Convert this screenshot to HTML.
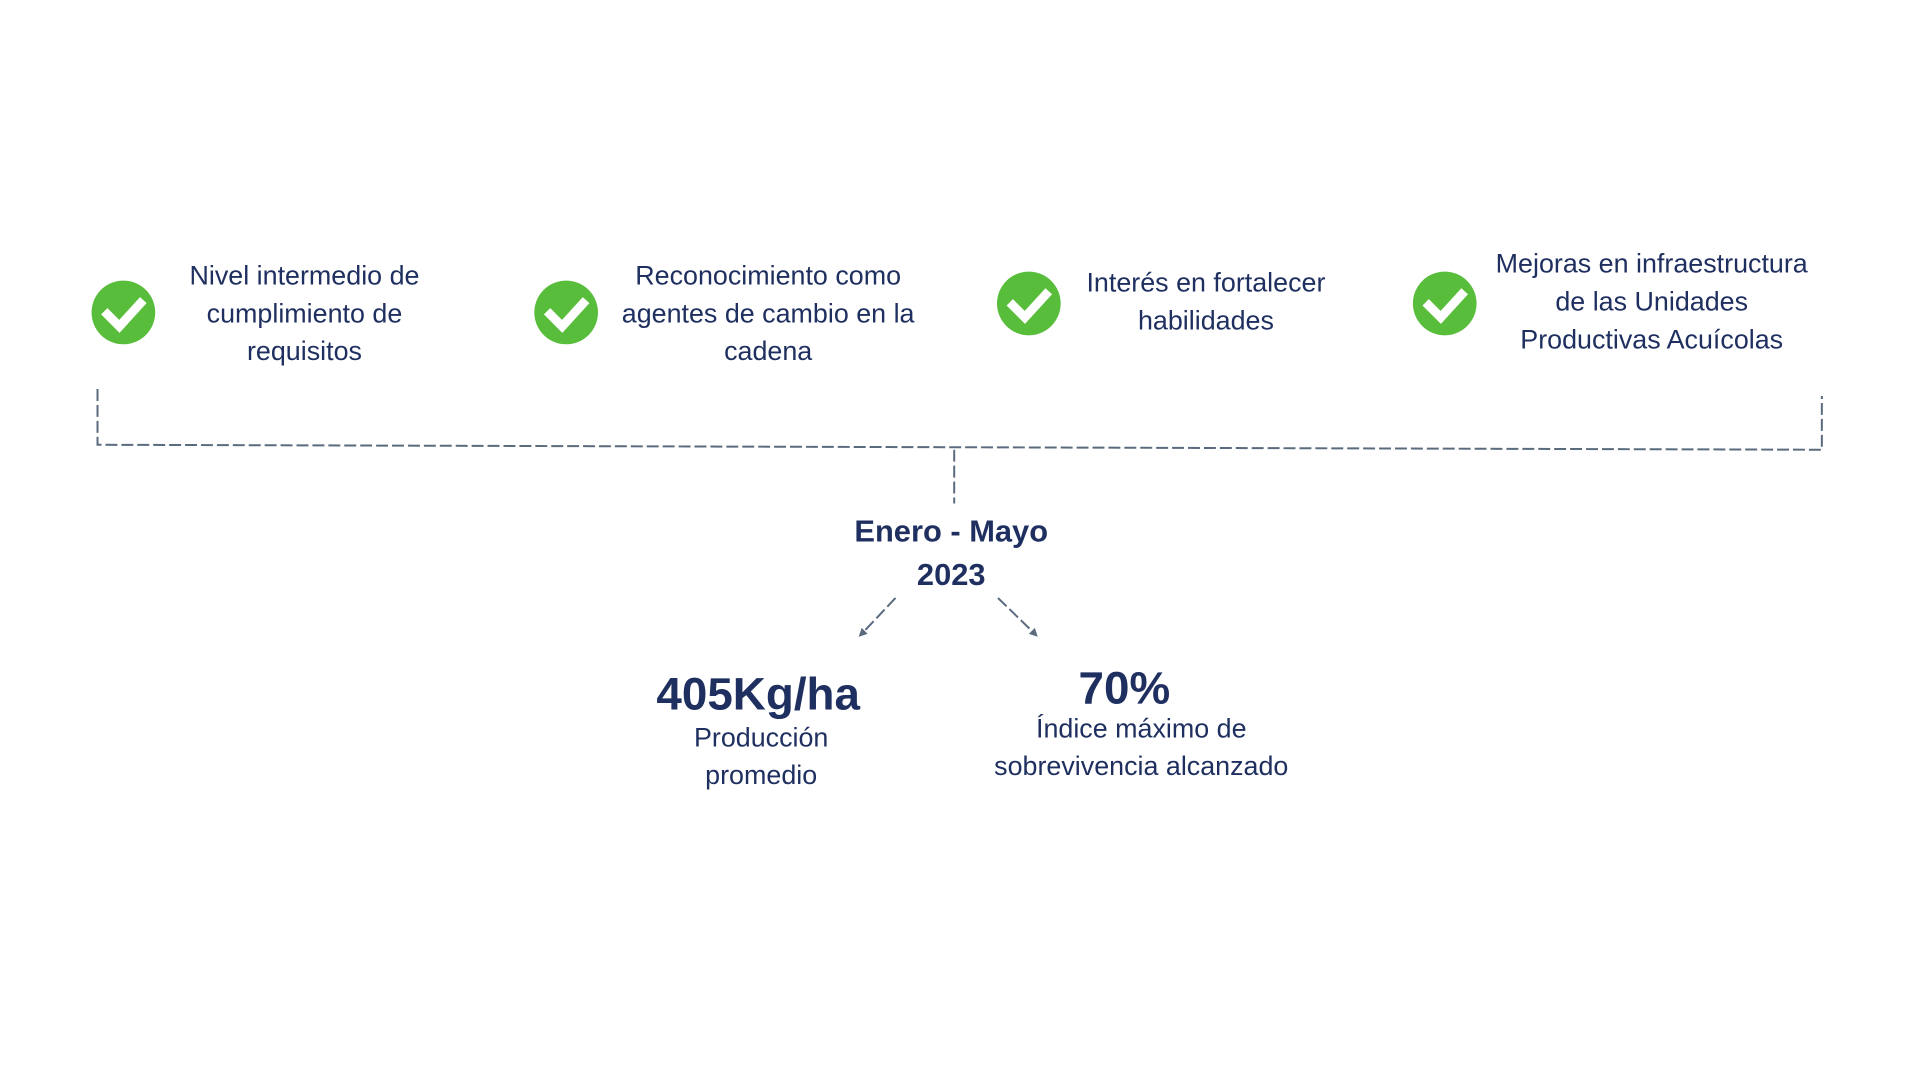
<!DOCTYPE html>
<html><head><meta charset="utf-8"><style>
body{margin:0;width:1920px;height:1080px;background:#fff;position:relative;overflow:hidden;font-family:"Liberation Sans",sans-serif;color:#1f3060}
#w{position:absolute;left:0;top:0;width:1920px;height:1080px;transform:scale(0.995);transform-origin:0 0}
.t{position:absolute;transform:translate(-50%,-50%);white-space:nowrap;text-align:center;font-size:27px;line-height:38px}
.b{font-weight:bold}
svg{position:absolute;left:0;top:0}
</style></head><body><div id="w">
<svg width="1920" height="1080">
<g fill="#57bd3a">
<circle cx="124" cy="314" r="32"/><circle cx="569" cy="314" r="32"/><circle cx="1034" cy="305" r="32"/><circle cx="1452" cy="305" r="32"/>
</g>
<g fill="none" stroke="#fff" stroke-width="9" stroke-linecap="square">
<path d="M108 316 L120 328 L141 305"/><path d="M553 316 L565 328 L586 305"/><path d="M1018 307 L1030 319 L1051 296"/><path d="M1436 307 L1448 319 L1469 296"/>
</g>
<g fill="none" stroke="#5a6b7d" stroke-width="2" stroke-dasharray="12,4">
<path d="M98 391 L98 447 L1831 452 L1831 398"/>
<path d="M959 452 L959 506"/>
<path d="M900 601 L867 636"/><path d="M1003 601 L1039 636"/>
</g>
<g fill="#5a6b7d"><path d="M863 640 L866 631 L872 637Z"/><path d="M1043 640 L1034 637 L1040 631Z"/></g>
</svg>
<div class="t" style="left:306px;top:315px">Nivel intermedio de<br>cumplimiento de<br>requisitos</div>
<div class="t" style="left:772px;top:315px">Reconocimiento como<br>agentes de cambio en la<br>cadena</div>
<div class="t" style="left:1212px;top:303px">Interés en fortalecer<br>habilidades</div>
<div class="t" style="left:1660px;top:303px">Mejoras en infraestructura<br>de las Unidades<br>Productivas Acuícolas</div>
<div class="t b" style="left:956px;top:556px;font-size:31px;line-height:44px">Enero - Mayo<br>2023</div>
<div class="t b" style="left:762px;top:697px;font-size:46px;line-height:50px">405Kg/ha</div>
<div class="t" style="left:765px;top:760px">Producción<br>promedio</div>
<div class="t b" style="left:1130px;top:691px;font-size:46px;line-height:50px">70%</div>
<div class="t" style="left:1147px;top:751px">Índice máximo de<br>sobrevivencia alcanzado</div>
</div></body></html>
